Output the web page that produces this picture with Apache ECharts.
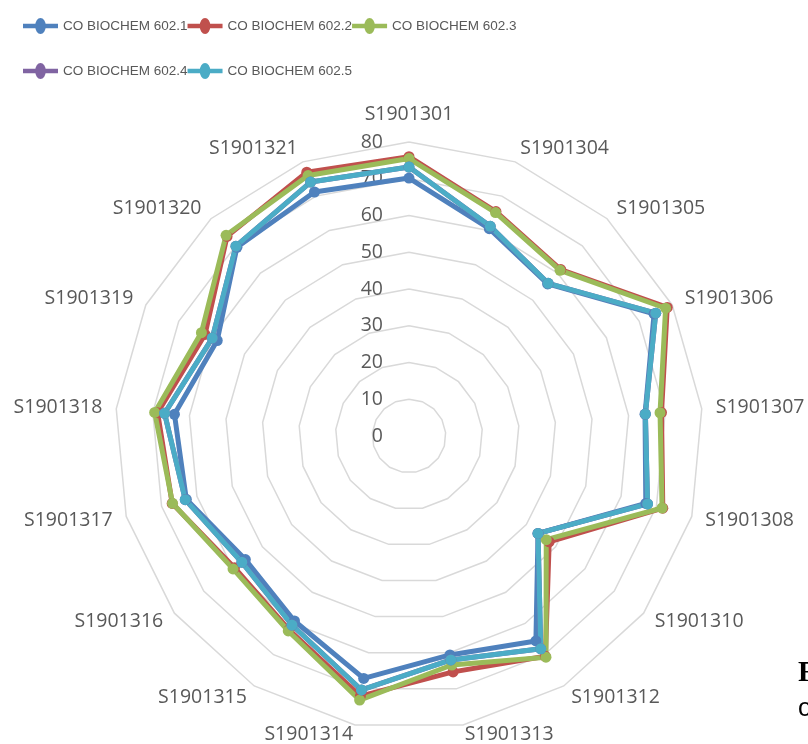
<!DOCTYPE html>
<html>
<head>
<meta charset="utf-8">
<script src="https://cdn.jsdelivr.net/npm/echarts@6/dist/echarts.min.js"></script>
<style>
  html, body { margin: 0; padding: 0; background: #fff; }
  #chart { width: 808px; height: 744px; }
</style>
</head>
<body>
<div id="chart"></div>
<script>
  // students, clockwise from the top
  var students = ['S1901301', 'S1901304', 'S1901305', 'S1901306', 'S1901307', 'S1901308',
    'S1901310', 'S1901312', 'S1901313', 'S1901314', 'S1901315', 'S1901316',
    'S1901317', 'S1901318', 'S1901319', 'S1901320', 'S1901321'];
  var coNames = ['CO BIOCHEM 602.1', 'CO BIOCHEM 602.2', 'CO BIOCHEM 602.3', 'CO BIOCHEM 602.4', 'CO BIOCHEM 602.5'];
  var co1 = [70.2, 60.5, 56.0, 74.5, 64.5, 67.0, 44.0, 65.6, 60.6, 67.1, 59.2, 55.8, 63.0, 64.1, 58.3, 69.5, 71.2];
  var co2 = [76.0, 65.5, 61.3, 78.5, 69.0, 71.8, 47.8, 70.5, 65.3, 72.0, 62.0, 59.5, 67.0, 68.7, 62.0, 73.5, 77.0];
  var co3 = [75.5, 65.2, 61.0, 78.0, 68.6, 71.6, 46.8, 70.8, 63.4, 73.1, 62.4, 60.0, 66.9, 69.5, 63.1, 73.9, 76.0];
  var co4 = [73.2, 61.2, 56.2, 75.0, 64.6, 67.5, 44.0, 68.1, 62.0, 70.3, 60.5, 57.0, 63.3, 66.8, 59.8, 69.9, 74.1];
  var co5 = [73.2, 61.2, 56.2, 75.0, 64.6, 67.5, 44.0, 68.1, 62.0, 70.3, 60.5, 57.0, 63.3, 66.8, 59.8, 69.9, 74.1];
  var scoreMin = 0;
  var scoreMax = 80;

  var allCo = [co1, co2, co3, co4, co5];
  var colors = ['#4F81BD', '#C0504D', '#9BBB59', '#8064A2', '#4BACC6'];

  // echarts lays radar axes out counter-clockwise, so feed them in reverse
  var order = [0];
  for (var k = students.length - 1; k > 0; k--) order.push(k);

  // excel puts the top name a bit further out, the two bottom ones closer
  var nameGaps = { 0: 18, 8: 10, 9: 10 };

  var legendIcon = 'path://M0,5.7H35V10.3H0Z M17.5,0A5.3,8 0 1,1 17.5,16A5.3,8 0 1,1 17.5,0Z';
  var legendText = { color: '#595959', fontSize: 13.5, fontFamily: '"Liberation Sans", sans-serif' };

  var chart = echarts.init(document.getElementById('chart'), null, { renderer: 'canvas' });

  chart.setOption({
    animation: false,
    color: colors,
    legend: [{
      data: coNames.slice(0, 3),
      left: 18, top: 13,
      itemWidth: 35, itemHeight: 16, itemGap: 0,
      icon: legendIcon,
      textStyle: legendText
    }, {
      data: coNames.slice(3),
      left: 18, top: 58,
      itemWidth: 35, itemHeight: 16, itemGap: 0,
      icon: legendIcon,
      textStyle: legendText
    }],
    radar: {
      center: [409, 436],
      radius: 294,
      startAngle: 90,
      shape: 'polygon',
      splitNumber: 8,
      nameGap: 14,
      indicator: order.map(function (i, k) {
        var ind = { name: students[i], min: scoreMin, max: scoreMax, nameMoveOverlap: false };
        if (nameGaps[i] != null) ind.nameGap = nameGaps[i];
        if (k === 0) ind.axisLabel = { show: true };
        return ind;
      }),
      axisName: { color: '#595959', fontSize: 19.5, fontFamily: '"Open Sans", sans-serif' },
      splitLine: { lineStyle: { color: '#D9D9D9', width: 1.5 } },
      splitArea: { show: false },
      axisLine: { show: false },
      axisTick: { show: false },
      axisLabel: { show: false, color: '#595959', fontSize: 19.5, fontFamily: '"Open Sans", sans-serif', margin: 26 }
    },
    series: allCo.map(function (vals, s) {
      return {
        type: 'radar',
        name: coNames[s],
        symbol: 'circle',
        symbolSize: 11,
        lineStyle: { width: 5, color: colors[s] },
        itemStyle: { color: colors[s] },
        data: [{ name: coNames[s], value: order.map(function (i) { return vals[i]; }) }]
      };
    }),
    graphic: [
      { type: 'text', left: 798, top: 659, style: { text: 'F', font: 'bold 29px "Liberation Serif", serif', fill: '#000' } },
      { type: 'text', left: 798, top: 697, style: { text: 'o', font: '25px "Liberation Sans", sans-serif', fill: '#000' } }
    ]
  });
</script>
</body>
</html>
